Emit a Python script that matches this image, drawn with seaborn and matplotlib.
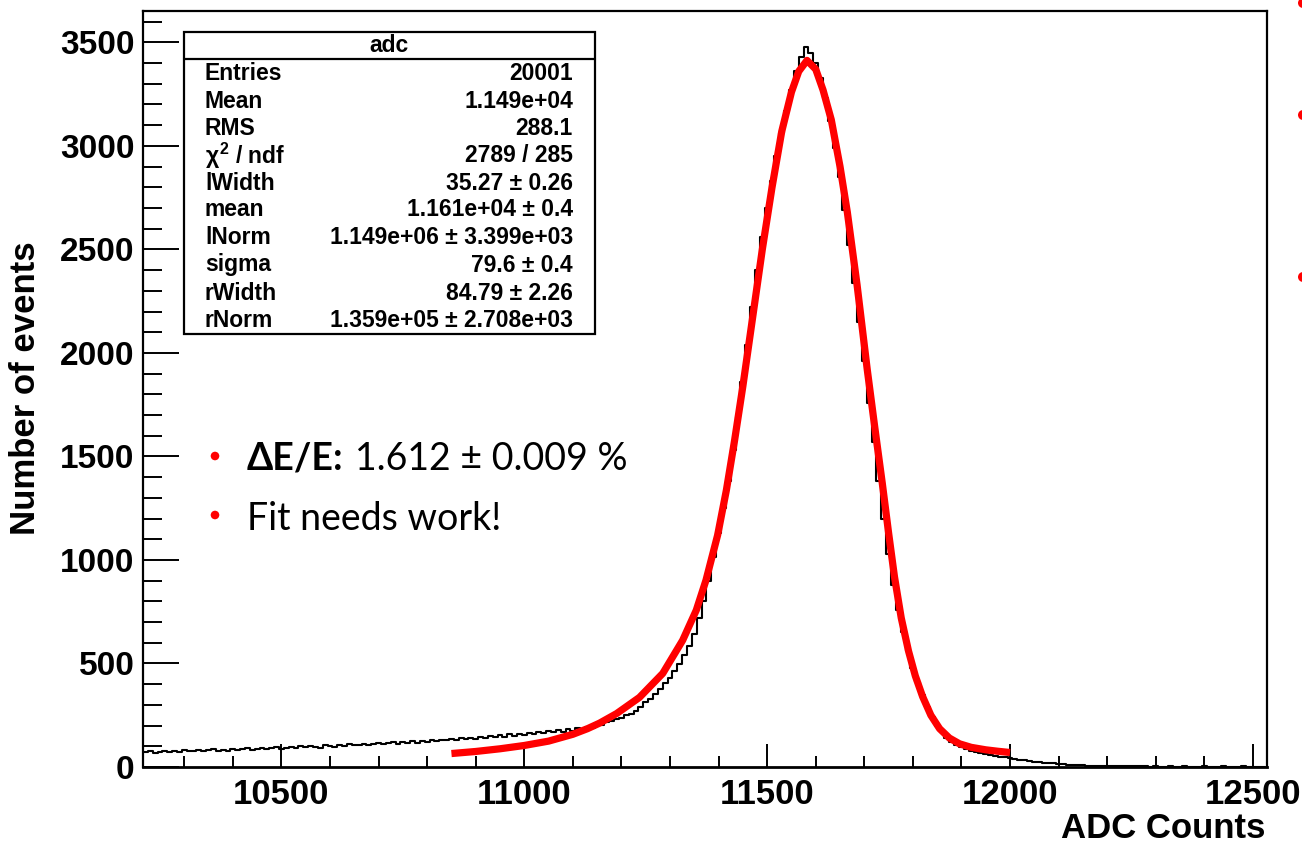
import numpy as np
import pandas as pd
import matplotlib
matplotlib.use("Agg")
import matplotlib.pyplot as plt
from matplotlib.patches import Rectangle, Circle
from matplotlib.lines import Line2D
from matplotlib.transforms import IdentityTransform
from matplotlib.ticker import MultipleLocator
import seaborn as sns

# ---------------- data ----------------
bin_start = 10215
bin_width = 10
hist_counts = [
    72, 76, 70, 74, 79, 73, 77, 71, 80, 76,
    78, 83, 75, 81, 86, 79, 84, 77, 88, 82,
    85, 90, 83, 88, 92, 86, 91, 95, 89, 94,
    97, 92, 100, 96, 103, 98, 94, 105, 101, 99,
    106, 102, 110, 104, 108, 113, 107, 111, 116, 109,
    114, 119, 112, 121, 117, 124, 118, 126, 121, 129,
    125, 132, 128, 136, 130, 139, 134, 142, 137, 145,
    140, 149, 144, 153, 147, 157, 151, 160, 155, 164,
    159, 168, 163, 172, 167, 177, 171, 182, 176, 187,
    183, 193, 189, 201, 204, 216, 221, 234, 238, 250,
    258, 272, 288, 314, 328, 354, 376, 406, 428, 464,
    496, 542, 586, 642, 718, 802, 898, 1012, 1128, 1252,
    1380, 1530, 1690, 1860, 2040, 2220, 2400, 2560, 2700, 2830,
    2950, 3060, 3170, 3270, 3360, 3430, 3480, 3450, 3400, 3330,
    3230, 3120, 2990, 2850, 2690, 2520, 2340, 2150, 1960, 1760,
    1570, 1380, 1200, 1030, 880, 760, 650, 560, 480, 410,
    350, 290, 240, 200, 168, 142, 122, 107, 96, 87,
    79, 73, 68, 63, 59, 55, 50, 46, 42, 38,
    35, 32, 29, 26, 24, 21, 19, 17, 15, 13,
    12, 10, 9, 8, 7, 6, 6, 5, 5, 4,
    4, 4, 3, 3, 3, 3, 3, 2, 3, 2,
    2, 3, 2, 2, 3, 2, 2, 2, 3, 2,
    2, 2, 3, 2, 2, 2, 3, 2, 2, 2, 2,
]

fit_x = [10850, 10900, 10950, 11000, 11050, 11100, 11130, 11155, 11190, 11237,
         11285, 11326, 11354, 11374, 11398, 11416, 11433, 11450, 11470, 11490,
         11510, 11530, 11550, 11565, 11582, 11600, 11615, 11632, 11650, 11665,
         11685, 11706, 11721, 11737, 11750, 11762, 11776, 11791, 11805, 11820,
         11837, 11855, 11875, 11896, 11920, 11950, 11975, 12000]
fit_y = [65, 75, 88, 104, 125, 158, 185, 212, 258, 336,
         452, 612, 757, 902, 1120, 1337, 1579, 1840, 2170, 2500,
         2800, 3070, 3260, 3360, 3413, 3370, 3270, 3126, 2900, 2680,
         2330, 1920, 1650, 1370, 1130, 920, 720, 560, 440, 340,
         250, 185, 140, 112, 95, 83, 76, 70]

stats_labels = ["Entries", "Mean", "RMS", r"$\chi^{2}$ / ndf", "lWidth", "mean",
                "lNorm", "sigma", "rWidth", "rNorm"]
stats_values = ["20001", "1.149e+04", "288.1", "2789 / 285", "35.27 \u00b1 0.26",
                "1.161e+04 \u00b1 0.4", "1.149e+06 \u00b1 3.399e+03", "79.6 \u00b1 0.4",
                "84.79 \u00b1 2.26", "1.359e+05 \u00b1 2.708e+03"]
stats_title = "adc"

x_label = "ADC Counts"
y_label = "Number of events"
bullet_bold = "\u0394E/E:"
bullet_rest = "1.612 \u00b1 0.009 %"
bullet_2 = "Fit needs work!"

# ---------------- figure ----------------
sns.set_style("ticks")
plt.rcParams["font.family"] = ["Liberation Sans", "DejaVu Sans"]
plt.rcParams["mathtext.fontset"] = "custom"
plt.rcParams["mathtext.rm"] = "Liberation Sans:bold"
plt.rcParams["mathtext.it"] = "Liberation Sans:bold"
plt.rcParams["mathtext.bf"] = "Liberation Sans:bold"
for k in ["text.color", "axes.labelcolor", "xtick.color", "ytick.color", "axes.edgecolor"]:
    plt.rcParams[k] = "black"

W, H = 1302, 844
fig = plt.figure(figsize=(W / 100, H / 100), dpi=100)
ax = fig.add_axes([143 / W, 1 - 767 / H, (1267 - 143) / W, (767 - 10.7) / H])

n_bins = len(hist_counts)
centers = bin_start + bin_width * (np.arange(n_bins) + 0.5)
df = pd.DataFrame({"adc": centers, "n": hist_counts})
sns.histplot(data=df, x="adc", weights="n", binwidth=bin_width,
             binrange=(bin_start, bin_start + bin_width * n_bins),
             element="step", fill=False, color="black", linewidth=1.5, ax=ax)

fit_df = pd.DataFrame({"x": fit_x, "y": fit_y})
sns.lineplot(data=fit_df, x="x", y="y", color="#ff0000", linewidth=5.2,
             sort=False, estimator=None, ax=ax, solid_capstyle="butt")

ax.set_xlim(10215, 12529)
ax.set_ylim(0, 3653)
ax.xaxis.set_major_locator(MultipleLocator(500))
ax.xaxis.set_minor_locator(MultipleLocator(100))
ax.yaxis.set_major_locator(MultipleLocator(500))
ax.yaxis.set_minor_locator(MultipleLocator(100))
ax.tick_params(axis="x", which="major", direction="in", length=16.5, width=1.4,
               labelsize=25, pad=8, top=False, colors="black")
ax.tick_params(axis="x", which="minor", direction="in", length=8, width=1.4, top=False,
               colors="black")
ax.tick_params(axis="y", which="major", direction="in", length=26, width=1.4,
               labelsize=24, pad=6, right=False, colors="black")
ax.tick_params(axis="y", which="minor", direction="in", length=14, width=1.4, right=False,
               colors="black")
for lab in ax.get_xticklabels() + ax.get_yticklabels():
    lab.set_fontweight("bold")
for sp in ax.spines.values():
    sp.set_visible(True)
    sp.set_linewidth(1.6)
    sp.set_color("black")
ax.spines["bottom"].set_linewidth(2.0)
ax.set_xlabel("")
ax.set_ylabel("")

fig.text(1265 / W, 1 - 828 / H, x_label, ha="right", va="center",
         fontsize=25, fontweight="bold", color="black")
fig.text(26 / W, 1 - 388 / H, y_label, ha="center", va="center", rotation=90,
         fontsize=25, fontweight="bold", color="black")

# ---------------- stats box ----------------
bx0, by0, bx1, by1 = 184, 32, 595, 334
fig.add_artist(Rectangle((bx0 / W, 1 - by1 / H), (bx1 - bx0) / W, (by1 - by0) / H,
                         transform=fig.transFigure, facecolor="white",
                         edgecolor="black", linewidth=1.6, zorder=5))
fig.add_artist(Line2D([bx0 / W, bx1 / W], [1 - 59 / H, 1 - 59 / H],
                      transform=fig.transFigure, color="black", linewidth=1.6, zorder=6))
fig.text(389 / W, 1 - 46 / H, stats_title, ha="center", va="center",
         fontsize=16.5, fontweight="bold", zorder=7, color="black")
row_y = [74, 101.5, 128.5, 155.5, 183, 210, 238, 265, 293, 320.5]
for lab, val, yy in zip(stats_labels, stats_values, row_y):
    fig.text(205 / W, 1 - yy / H, lab, ha="left", va="center",
             fontsize=16.5, fontweight="bold", zorder=7, color="black")
    fig.text(573 / W, 1 - yy / H, val, ha="right", va="center",
             fontsize=16.5, fontweight="bold", zorder=7, color="black")

# ---------------- bullet text ----------------
bfont = ["Lato", "DejaVu Sans"]
fig.text(247 / W, 1 - 470 / H, bullet_bold, ha="left", va="baseline",
         fontsize=27, fontweight="bold", family=bfont, color="black")
fig.text(355 / W, 1 - 470 / H, bullet_rest, ha="left", va="baseline",
         fontsize=27, family=bfont, color="black")
fig.text(247 / W, 1 - 530 / H, bullet_2, ha="left", va="baseline",
         fontsize=27, family=bfont, color="black")
for cy in [456, 515]:
    fig.add_artist(Circle((215, H - cy), 4.3, transform=IdentityTransform(),
                          facecolor="#ff0000", edgecolor="none"))
for cy in [3, 115, 277]:
    fig.add_artist(Circle((1303, H - cy), 5, transform=IdentityTransform(),
                          facecolor="#ff0000", edgecolor="none"))

fig.savefig("out.png", dpi=100)
